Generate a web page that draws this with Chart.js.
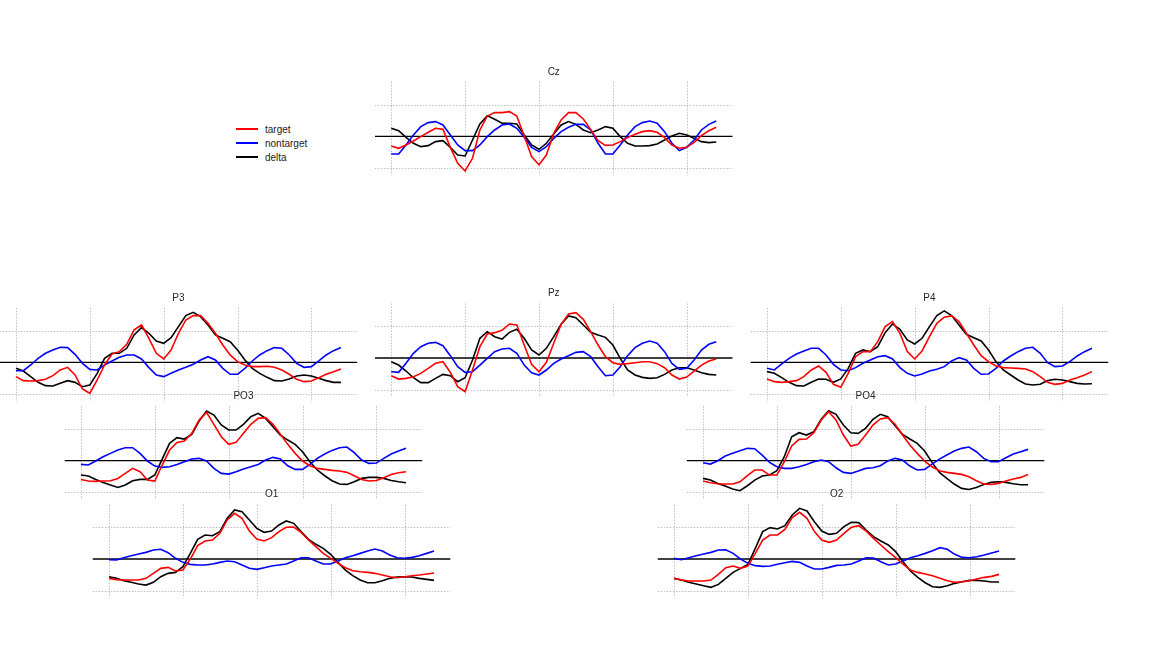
<!DOCTYPE html>
<html>
<head>
<meta charset="utf-8">
<script src="https://cdn.jsdelivr.net/npm/chart.js@4.4.1/dist/chart.umd.min.js"></script>
<style>
  html, body { margin: 0; padding: 0; background: #fff; }
  body { width: 1152px; height: 648px; position: relative; overflow: hidden; font-family: "Liberation Sans", Arial, sans-serif; }
  canvas { position: absolute; }
  #legend { position: absolute; left: 236px; top: 123px; font-size: 10px; color: #222; }
  #legend .row { height: 14px; line-height: 14px; white-space: nowrap; }
  #legend .swatch { display: inline-block; width: 22px; height: 2px; vertical-align: middle; margin-right: 7px; position: relative; top: -1px; }
</style>
</head>
<body>
<div id="legend"></div>
<script>
// sample index of each point (45 samples), grid every 10 samples
const samples = Array.from({ length: 45 }, (_, i) => i);
const xTicks = [0, 10, 20, 30, 40];
const yTicks = [-5, 5];
const seriesNames = ["target", "nontarget", "delta"];
const seriesColors = ["#ff0000", "#0000ff", "#000000"];

// ---- Cz
const czTarget = [-1.53,-1.89,-1.37,-0.74,-0.05,0.63,1.26,1.1,-1.74,-4.26,-5.47,-3.47,1.0,3.2,3.74,3.74,3.9,3.2,0.05,-3.2,-4.5,-2.95,0.47,2.58,3.74,3.74,2.74,1.1,-0.68,-1.42,-1.37,-0.84,-0.21,0.32,0.74,0.89,0.63,-0.21,-1.37,-1.89,-1.74,-0.95,0.1,0.89,1.42];
const czNontarget = [-2.79,-2.79,-1.37,0.21,1.53,2.16,2.32,1.79,0.21,-1.37,-2.26,-2.26,-1.37,-0.05,1.0,1.79,1.95,1.26,-0.16,-1.74,-2.42,-1.63,-0.32,0.74,1.42,1.89,1.89,1.0,-1.1,-2.79,-2.79,-1.37,0.21,1.53,2.16,2.42,2.05,0.74,-1.1,-2.26,-1.74,-0.58,1.0,1.89,2.42];
const czDelta = [1.26,0.89,-0.16,-1.1,-1.63,-1.47,-0.84,-0.68,-1.74,-2.95,-3.1,-0.58,1.95,3.26,2.68,2.05,2.05,1.95,0.21,-1.37,-2.05,-1.1,0.37,1.79,2.32,1.89,1.0,0.58,1.0,1.53,1.26,-0.05,-1.1,-1.53,-1.53,-1.47,-1.21,-0.58,0.05,0.47,0.21,-0.32,-0.84,-1.0,-0.89];

// ---- P3
const p3Target = [-2.26,-2.89,-2.95,-2.89,-2.68,-2.11,-1.21,-0.79,-2.0,-4.21,-4.89,-2.79,-0.42,1.32,1.68,2.84,5.11,5.89,3.79,1.42,0.53,1.95,4.58,6.68,7.37,7.37,6.16,4.58,2.74,1.16,0.11,-0.42,-0.68,-0.68,-0.63,-0.79,-1.21,-1.89,-2.68,-3.05,-2.95,-2.42,-1.89,-1.47,-1.05];
const p3Nontarget = [-1.32,-1.32,-0.42,0.63,1.42,1.95,2.37,2.32,1.26,-0.16,-1.11,-1.21,-0.42,0.21,0.79,1.16,1.16,0.53,-0.84,-2.0,-2.26,-1.74,-1.21,-0.79,-0.32,0.37,0.89,0.37,-0.95,-1.89,-1.89,-0.95,0.21,1.16,1.84,2.32,2.21,1.16,-0.16,-0.79,-0.68,0.21,1.16,1.84,2.32];
const p3Delta = [-0.95,-1.37,-2.26,-3.16,-3.68,-3.74,-3.32,-2.89,-3.16,-3.84,-3.58,-1.74,0.63,1.42,1.42,2.21,4.32,5.47,4.58,3.37,3.0,3.89,5.63,7.37,7.89,7.21,5.89,4.32,3.79,3.26,1.95,0.37,-0.95,-1.74,-2.37,-2.89,-2.95,-2.63,-2.16,-2.0,-2.16,-2.53,-2.89,-3.16,-3.16];

// ---- Pz
const pzTarget = [-2.79,-3.32,-3.21,-2.95,-2.42,-1.63,-0.84,-0.58,-2.26,-4.53,-5.32,-1.89,1.79,3.79,4.0,4.37,5.37,5.21,2.05,-1.0,-2.16,-0.68,2.32,5.32,6.95,7.16,6.11,4.16,2.05,0.21,-0.74,-1.0,-0.89,-0.74,-0.58,-0.58,-0.89,-1.53,-2.68,-3.32,-3.0,-2.05,-1.11,-0.47,-0.16];
const pzNontarget = [-2.16,-2.26,-0.84,0.74,1.79,2.32,2.47,1.95,0.37,-1.37,-2.26,-2.16,-1.11,-0.05,1.0,1.42,1.53,0.74,-1.11,-2.32,-2.68,-1.89,-0.84,-0.16,0.37,0.89,1.0,0.21,-1.37,-2.79,-2.68,-1.37,0.37,1.63,2.32,2.68,2.32,1.0,-0.84,-1.79,-1.63,-0.32,1.26,2.16,2.58];
const pzDelta = [-0.58,-1.11,-2.05,-3.11,-3.89,-3.89,-3.21,-2.58,-2.79,-3.74,-3.11,-0.32,3.11,4.16,3.37,3.0,4.05,4.53,3.11,1.26,0.47,1.53,3.37,5.32,6.63,6.37,5.21,4.05,3.63,3.26,2.05,-0.05,-1.89,-2.68,-3.05,-3.21,-3.11,-2.58,-1.89,-1.53,-1.53,-1.89,-2.32,-2.58,-2.68];

// ---- P4
const p4Target = [-2.63,-3.05,-3.16,-3.05,-2.89,-2.26,-1.21,-0.58,-1.58,-3.47,-3.95,-1.74,0.89,1.68,1.68,3.26,5.63,6.42,4.58,1.68,0.53,1.79,4.05,6.16,7.11,7.32,6.42,4.58,2.74,1.05,0.11,-0.58,-0.84,-0.89,-0.95,-1.05,-1.47,-2.26,-3.16,-3.47,-3.32,-2.79,-2.42,-2.0,-1.47];
const p4Nontarget = [-0.95,-1.21,-0.26,0.63,1.32,1.79,2.21,2.21,1.16,-0.32,-1.21,-1.32,-0.84,-0.16,0.37,0.89,1.05,0.53,-0.84,-1.74,-2.16,-1.84,-1.37,-1.11,-0.68,0.21,0.74,0.37,-0.95,-1.89,-1.84,-0.95,0.21,1.0,1.68,2.21,2.37,1.42,-0.05,-0.68,-0.58,0.11,1.0,1.68,2.21];
const p4Delta = [-1.47,-1.74,-2.42,-3.16,-3.68,-3.74,-3.16,-2.63,-2.68,-3.16,-2.63,-0.95,1.42,1.95,1.68,2.47,4.68,6.05,5.21,3.53,2.89,3.79,5.63,7.37,8.11,7.37,5.89,4.42,3.89,3.37,1.95,0.11,-1.21,-2.0,-2.79,-3.42,-3.58,-3.47,-2.89,-2.68,-2.79,-3.05,-3.32,-3.42,-3.37];

// ---- PO3
const po3Target = [-2.95,-3.21,-3.26,-3.21,-3.16,-2.79,-2.0,-1.21,-1.74,-3.05,-3.21,-0.68,1.68,2.89,3.11,4.32,6.42,7.63,5.74,3.79,2.58,2.89,4.32,5.74,6.68,6.79,5.74,4.16,2.58,1.16,-0.05,-0.79,-1.21,-1.37,-1.53,-1.63,-1.84,-2.37,-2.95,-3.21,-3.11,-2.68,-2.16,-1.89,-1.74];
const po3Nontarget = [-0.58,-0.68,-0.05,0.63,1.16,1.68,2.05,2.05,1.16,-0.05,-0.84,-1.05,-0.95,-0.58,-0.16,0.26,0.37,-0.05,-1.21,-2.0,-2.11,-1.74,-1.32,-0.95,-0.58,0.11,0.53,0.26,-0.79,-1.37,-1.37,-0.58,0.37,1.05,1.63,2.05,2.16,1.26,0.11,-0.42,-0.37,0.37,1.05,1.53,1.95];
const po3Delta = [-2.26,-2.42,-2.95,-3.42,-3.84,-4.21,-3.84,-3.16,-2.95,-2.95,-2.26,0.26,2.74,3.63,3.42,4.16,6.26,7.84,7.21,5.63,4.84,4.84,5.74,6.95,7.47,6.68,5.37,4.05,3.26,2.58,1.42,-0.16,-1.47,-2.37,-3.16,-3.68,-3.74,-3.32,-2.79,-2.63,-2.63,-2.79,-3.11,-3.32,-3.47];

// ---- PO4
const po4Target = [-3.21,-3.47,-3.63,-3.68,-3.68,-3.32,-2.37,-1.47,-1.47,-2.26,-2.26,-0.16,2.32,3.37,3.42,4.42,6.42,7.74,6.42,4.05,2.32,2.58,4.05,5.63,6.58,6.79,5.74,4.05,2.47,1.16,-0.05,-0.95,-1.58,-1.84,-2.0,-2.16,-2.53,-3.16,-3.68,-3.74,-3.58,-3.21,-2.89,-2.63,-2.16];
const po4Nontarget = [-0.32,-0.53,0.0,0.74,1.16,1.58,1.95,1.89,0.89,-0.26,-0.95,-1.21,-1.21,-0.95,-0.58,-0.16,0.11,-0.16,-1.11,-1.84,-2.0,-1.63,-1.21,-1.11,-0.79,-0.05,0.37,0.11,-0.84,-1.47,-1.37,-0.53,0.26,0.89,1.53,1.95,2.16,1.42,0.37,-0.16,-0.16,0.47,1.05,1.42,1.79];
const po4Delta = [-2.79,-3.05,-3.58,-4.0,-4.47,-4.74,-3.95,-3.05,-2.42,-2.26,-1.58,0.63,3.79,4.42,4.05,4.58,6.53,7.89,7.32,5.63,4.42,4.32,5.11,6.53,7.32,6.95,5.53,4.16,3.42,2.74,1.53,-0.26,-1.84,-2.79,-3.68,-4.37,-4.53,-4.21,-3.74,-3.42,-3.32,-3.42,-3.63,-3.79,-3.79];

// ---- O1
const o1Target = [-3.05,-3.26,-3.32,-3.32,-3.32,-3.05,-2.26,-1.47,-1.32,-1.89,-1.74,0.0,2.11,2.84,3.0,4.05,6.16,7.21,6.42,4.42,3.16,2.84,3.37,4.32,5.0,5.05,4.21,3.0,1.95,0.89,0.11,-0.68,-1.37,-1.84,-2.0,-2.11,-2.26,-2.53,-2.79,-2.95,-2.79,-2.63,-2.53,-2.37,-2.21];
const o1Nontarget = [-0.11,-0.16,0.21,0.53,0.79,1.05,1.42,1.53,1.0,0.11,-0.53,-0.84,-0.95,-0.95,-0.79,-0.53,-0.32,-0.42,-0.95,-1.47,-1.63,-1.37,-1.11,-0.95,-0.79,-0.32,0.21,0.21,-0.32,-0.79,-0.79,-0.32,0.21,0.53,0.89,1.26,1.58,1.26,0.63,0.21,0.11,0.26,0.53,0.89,1.26];
const o1Delta = [-2.79,-3.05,-3.42,-3.68,-3.95,-4.11,-3.68,-2.79,-2.26,-2.11,-1.21,0.89,3.11,3.79,3.68,4.32,6.42,7.74,7.47,6.16,4.84,4.21,4.42,5.37,6.0,5.63,4.32,3.11,2.32,1.68,0.74,-0.53,-1.74,-2.63,-3.32,-3.74,-3.74,-3.42,-3.05,-2.84,-2.79,-2.84,-3.05,-3.21,-3.37];

// ---- O2
const o2Target = [-3.05,-3.32,-3.47,-3.47,-3.47,-3.32,-2.42,-1.37,-1.11,-1.47,-1.11,0.89,3.0,3.79,3.79,4.68,6.53,7.37,6.42,4.32,3.0,2.63,3.0,4.05,5.0,5.26,4.42,3.26,2.21,1.16,0.21,-0.79,-1.74,-2.11,-2.37,-2.63,-3.05,-3.42,-3.68,-3.58,-3.42,-3.16,-2.89,-2.74,-2.42];
const o2Nontarget = [0.11,-0.11,0.21,0.53,0.79,1.05,1.42,1.47,0.89,0.0,-0.68,-1.05,-1.16,-1.11,-0.84,-0.58,-0.37,-0.53,-1.11,-1.58,-1.58,-1.32,-1.0,-0.95,-0.79,-0.32,0.21,0.16,-0.42,-0.95,-0.79,-0.32,0.21,0.53,0.89,1.32,1.79,1.53,0.74,0.26,0.21,0.37,0.63,0.95,1.26];
const o2Delta = [-3.05,-3.32,-3.68,-3.95,-4.21,-4.47,-4.0,-3.05,-2.11,-1.47,-0.84,1.68,4.32,4.95,4.74,5.26,6.95,8.0,7.58,5.89,4.42,3.89,4.05,5.11,5.79,5.74,4.58,3.53,2.84,2.21,1.16,-0.42,-1.89,-2.89,-3.74,-4.37,-4.47,-4.21,-3.84,-3.58,-3.37,-3.37,-3.47,-3.63,-3.63];

/* ========================= */
/* LAYOUT (axes rectangles)  */
/* ========================= */
const AX_W = 357.5, AX_H = 93.5;
const Y_MIN = -6.15, Y_MAX = 8.6;

const panels = [
  { name: "Cz",  x: 375,   y: 81.8,  data: [czTarget, czNontarget, czDelta] },
  { name: "P3",  x: -0.3,  y: 307.8, data: [p3Target, p3Nontarget, p3Delta] },
  { name: "Pz",  x: 375,   y: 303.5, data: [pzTarget, pzNontarget, pzDelta] },
  { name: "P4",  x: 750.7, y: 307.8, data: [p4Target, p4Nontarget, p4Delta] },
  { name: "PO3", x: 64.7,  y: 406.2, data: [po3Target, po3Nontarget, po3Delta] },
  { name: "PO4", x: 686.8, y: 406.2, data: [po4Target, po4Nontarget, po4Delta] },
  { name: "O1",  x: 92.8,  y: 504.5, data: [o1Target, o1Nontarget, o1Delta] },
  { name: "O2",  x: 657.8, y: 504.5, data: [o2Target, o2Nontarget, o2Delta] }
];

/* grid + zero line + title, drawn with the chart's own scales */
const axesPlugin = {
  id: "mplAxes",
  beforeDatasetsDraw(chart, args, opts) {
    const { ctx, chartArea, scales } = chart;
    const { left, right, top, bottom } = chartArea;
    ctx.save();
    ctx.strokeStyle = "#b0b0b0";
    ctx.lineWidth = 0.8;
    ctx.setLineDash([1.5, 1.5]);
    xTicks.forEach(t => {
      const px = Math.round(scales.x.getPixelForValue(t)) + 0.5;
      ctx.beginPath(); ctx.moveTo(px, top); ctx.lineTo(px, bottom); ctx.stroke();
    });
    yTicks.forEach(t => {
      const py = Math.round(scales.y.getPixelForValue(t)) + 0.5;
      ctx.beginPath(); ctx.moveTo(left, py); ctx.lineTo(right, py); ctx.stroke();
    });
    ctx.setLineDash([]);
    ctx.strokeStyle = "#000";
    ctx.lineWidth = 1.3;
    const py0 = scales.y.getPixelForValue(0);
    ctx.beginPath(); ctx.moveTo(left, py0); ctx.lineTo(right, py0); ctx.stroke();
    ctx.restore();
  },
  afterDraw(chart, args, opts) {
    const { ctx, chartArea } = chart;
    ctx.save();
    ctx.font = '10px "Liberation Sans", Arial, sans-serif';
    ctx.fillStyle = "#262626";
    ctx.textAlign = "center";
    ctx.textBaseline = "middle";
    ctx.fillText(opts.title, (chartArea.left + chartArea.right) / 2, chartArea.top - 10);
    ctx.restore();
  }
};

panels.forEach(p => {
  const cl = Math.floor(p.x) - 4;
  const ct = Math.floor(p.y) - 24;
  const cw = 366, ch = 124;
  const pad = {
    left: p.x - cl,
    top: p.y - ct,
    right: cw - (p.x - cl) - AX_W,
    bottom: ch - (p.y - ct) - AX_H
  };

  const canvas = document.createElement("canvas");
  canvas.width = cw;
  canvas.height = ch;
  canvas.style.left = cl + "px";
  canvas.style.top = ct + "px";
  canvas.style.width = cw + "px";
  canvas.style.height = ch + "px";
  document.body.appendChild(canvas);

  new Chart(canvas.getContext("2d"), {
    type: "line",
    data: {
      datasets: p.data.map((vals, k) => ({
        label: seriesNames[k],
        data: vals.map((v, i) => ({ x: samples[i], y: v })),
        borderColor: seriesColors[k],
        borderWidth: 1.6,
        pointRadius: 0,
        tension: 0,
        fill: false
      }))
    },
    options: {
      responsive: false,
      animation: false,
      devicePixelRatio: 1,
      layout: { padding: pad },
      plugins: {
        legend: { display: false },
        tooltip: { enabled: false },
        mplAxes: { title: p.name }
      },
      scales: {
        x: { type: "linear", min: -2.2, max: 46.2, display: false },
        y: { type: "linear", min: Y_MIN, max: Y_MAX, display: false }
      }
    },
    plugins: [axesPlugin]
  });
});

/* legend (figure level) */
const legendEl = document.getElementById("legend");
seriesNames.forEach((name, k) => {
  const row = document.createElement("div");
  row.className = "row";
  row.innerHTML = `<span class="swatch" style="background:${seriesColors[k]}"></span>${name}`;
  legendEl.appendChild(row);
});
</script>
</body>
</html>
